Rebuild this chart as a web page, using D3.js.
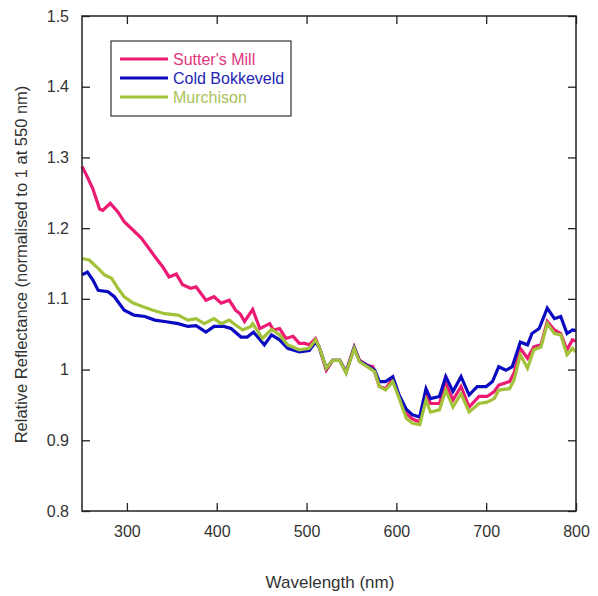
<!DOCTYPE html>
<html lang="en">
<head>
    <meta charset="UTF-8">
    <title>Relative Reflectance</title>
    <style>
        html, body { margin: 0; padding: 0; background: #fff; }
        text { font-family: "Liberation Sans", Arial, sans-serif; }
    </style>
</head>
<body>
    <div id="chart"></div>

    <script src="https://cdn.jsdelivr.net/npm/d3@7"></script>
    <script>
    // [wavelength nm, relative reflectance]
    const sutterMill = [
        [250,1.287],[255,1.275],[262,1.256],[269.6,1.227],[273,1.225],[281.5,1.235],[290,1.223],[297,1.209],
        [307,1.197],[316,1.186],[323,1.174],[331,1.160],[340,1.145],[347,1.131],[355,1.135],[362,1.120],
        [371,1.115],[377,1.117],[388,1.098],[397,1.103],[405,1.094],[414,1.098],[421,1.084],[426,1.079],
        [431,1.068],[440,1.085],[448,1.058],[459,1.065],[463,1.056],[470,1.058],[477,1.044],[485,1.047],
        [492,1.037],[498,1.037],[503,1.035],[510,1.044],[514,1.032],[522,0.999],[529,1.013],[537,1.013],
        [544,0.997],[553,1.032],[559,1.013],[568,1.006],[574,1.004],[581,0.976],[588,0.973],[596,0.987],
        [603,0.962],[611,0.938],[618,0.930],[626,0.926],[633,0.969],[638,0.952],[648,0.952],[655,0.980],
        [663,0.957],[672,0.976],[681,0.947],[692,0.962],[701,0.962],[709,0.969],[714,0.978],[726,0.983],
        [731,0.995],[738,1.030],[746,1.016],[753,1.032],[761,1.035],[768,1.068],[776,1.056],[783,1.051],
        [790,1.028],[796,1.042],[800,1.040]
    ];
    const coldBokkeveld = [
        [250,1.134],[256,1.138],[262,1.127],[268,1.112],[279,1.110],[286,1.103],[297,1.084],[308,1.077],
        [320,1.075],[331,1.070],[342,1.068],[357,1.065],[368,1.061],[377,1.062],[388,1.053],[397,1.061],
        [408,1.061],[416,1.058],[427,1.046],[434,1.046],[441,1.053],[453,1.035],[461,1.049],[470,1.042],
        [479,1.030],[492,1.025],[503,1.027],[510,1.039],[514,1.032],[522,1.002],[529,1.013],[537,1.013],
        [544,0.996],[553,1.031],[559,1.012],[570,1.004],[576,0.999],[581,0.983],[588,0.983],[596,0.990],
        [603,0.964],[611,0.944],[618,0.936],[626,0.933],[633,0.973],[638,0.959],[648,0.962],[655,0.990],
        [663,0.969],[672,0.990],[681,0.964],[690,0.976],[700,0.976],[707,0.983],[714,1.004],[722,0.999],
        [729,1.004],[738,1.039],[746,1.035],[751,1.051],[759,1.058],[768,1.087],[776,1.072],[783,1.075],
        [790,1.051],[796,1.056],[800,1.055]
    ];
    const murchison = [
        [250,1.157],[258,1.155],[268,1.143],[275,1.134],[283,1.129],[290,1.115],[297,1.103],[307,1.094],
        [318,1.089],[329,1.084],[342,1.079],[357,1.077],[368,1.070],[377,1.072],[386,1.065],[397,1.072],
        [405,1.065],[414,1.070],[421,1.063],[429,1.056],[438,1.061],[440,1.065],[451,1.044],[461,1.057],
        [470,1.049],[479,1.035],[492,1.028],[503,1.030],[510,1.042],[514,1.032],[522,1.002],[529,1.013],
        [537,1.013],[544,0.995],[553,1.030],[559,1.011],[570,1.002],[576,0.997],[581,0.976],[588,0.971],
        [596,0.983],[603,0.960],[611,0.931],[618,0.924],[626,0.922],[633,0.957],[638,0.940],[648,0.943],
        [655,0.971],[663,0.947],[672,0.966],[681,0.940],[692,0.952],[701,0.954],[709,0.959],[714,0.971],
        [726,0.973],[731,0.985],[738,1.021],[746,1.002],[753,1.028],[761,1.032],[768,1.065],[776,1.051],
        [783,1.049],[790,1.021],[796,1.030],[800,1.025]
    ];

    const seriesNames = ["Sutter's Mill", "Cold Bokkeveld", "Murchison"];
    const seriesColors = ["#ec1a72", "#0a0ac0", "#a2c23a"];
    const labelColors = ["#e0357e", "#2424b4", "#aac25a"];
    const xTicks = [300, 400, 500, 600, 700, 800];
    const yTicks = [0.8, 0.9, 1, 1.1, 1.2, 1.3, 1.4, 1.5];

    const W = 598, H = 596;
    const margin = { top: 16, right: 22, bottom: 85, left: 82 };

    const svg = d3.select("#chart").append("svg")
        .attr("width", W)
        .attr("height", H);

    const x = d3.scaleLinear().domain([250, 800]).range([margin.left, W - margin.right]);
    const y = d3.scaleLinear().domain([0.8, 1.5]).range([H - margin.bottom, margin.top]);

    const line = d3.line().x(d => x(d[0])).y(d => y(d[1]));

    // curves (Murchison drawn last, it sits on top in the original)
    const allSeries = [sutterMill, coldBokkeveld, murchison];
    allSeries.forEach((s, i) => {
        svg.append("path")
            .datum(s)
            .attr("fill", "none")
            .attr("stroke", seriesColors[i])
            .attr("stroke-width", 3.2)
            .attr("stroke-linejoin", "miter")
            .attr("d", line);
    });

    // frame + inward ticks
    const minorX = d3.range(260, 800, 20).filter(v => v % 100 !== 0);
    const minorY = d3.range(0.82, 1.5, 0.02).filter(v => Math.abs(v * 10 - Math.round(v * 10)) > 0.01);

    function addAxis(axisFn, scale, major, minor, transform, fmt, pad) {
        const g = svg.append("g").attr("transform", transform);
        g.call(axisFn(scale).tickValues(minor).tickSize(-4).tickFormat(""));
        g.call(axisFn(scale).tickValues(major).tickSize(-8).tickPadding(pad).tickFormat(fmt));
        g.selectAll(".domain").remove();
        g.selectAll("line").attr("stroke", "#222").attr("stroke-width", 1.3);
        g.selectAll("text").attr("fill", "#333").style("font-size", "16px");
        return g;
    }

    addAxis(d3.axisBottom, x, xTicks, minorX, `translate(0,${H - margin.bottom})`, d3.format("d"), 15);
    addAxis(d3.axisTop, x, xTicks, minorX, `translate(0,${margin.top})`, () => "", 3);
    addAxis(d3.axisLeft, y, yTicks, minorY, `translate(${margin.left},0)`, d => d === 1 ? "1" : d3.format(".1f")(d), 13);
    addAxis(d3.axisRight, y, yTicks, minorY, `translate(${W - margin.right},0)`, () => "", 3);

    svg.append("rect")
        .attr("x", margin.left)
        .attr("y", margin.top)
        .attr("width", W - margin.left - margin.right)
        .attr("height", H - margin.top - margin.bottom)
        .attr("fill", "none")
        .attr("stroke", "#222")
        .attr("stroke-width", 1.5);

    // axis titles
    svg.append("text")
        .attr("x", 330)
        .attr("y", 588)
        .attr("text-anchor", "middle")
        .attr("fill", "#333")
        .style("font-size", "17px")
        .text("Wavelength (nm)");

    svg.append("text")
        .attr("transform", `translate(27,${(margin.top + H - margin.bottom) / 2 + 1}) rotate(-90)`)
        .attr("text-anchor", "middle")
        .attr("fill", "#333")
        .style("font-size", "16.5px")
        .text("Relative Reflectance (normalised to 1 at 550 nm)");

    // legend
    const legend = svg.append("g").attr("transform", "translate(111,41)");
    legend.append("rect")
        .attr("width", 180)
        .attr("height", 75)
        .attr("fill", "#fff")
        .attr("stroke", "#333")
        .attr("stroke-width", 1.2);
    seriesNames.forEach((name, i) => {
        const ly = 18 + i * 19;
        legend.append("line")
            .attr("x1", 9).attr("x2", 57)
            .attr("y1", ly).attr("y2", ly)
            .attr("stroke", seriesColors[i])
            .attr("stroke-width", 3);
        legend.append("text")
            .attr("x", 62)
            .attr("y", ly + 6)
            .attr("fill", labelColors[i])
            .style("font-size", "16px")
            .text(name);
    });
    </script>
</body>
</html>
